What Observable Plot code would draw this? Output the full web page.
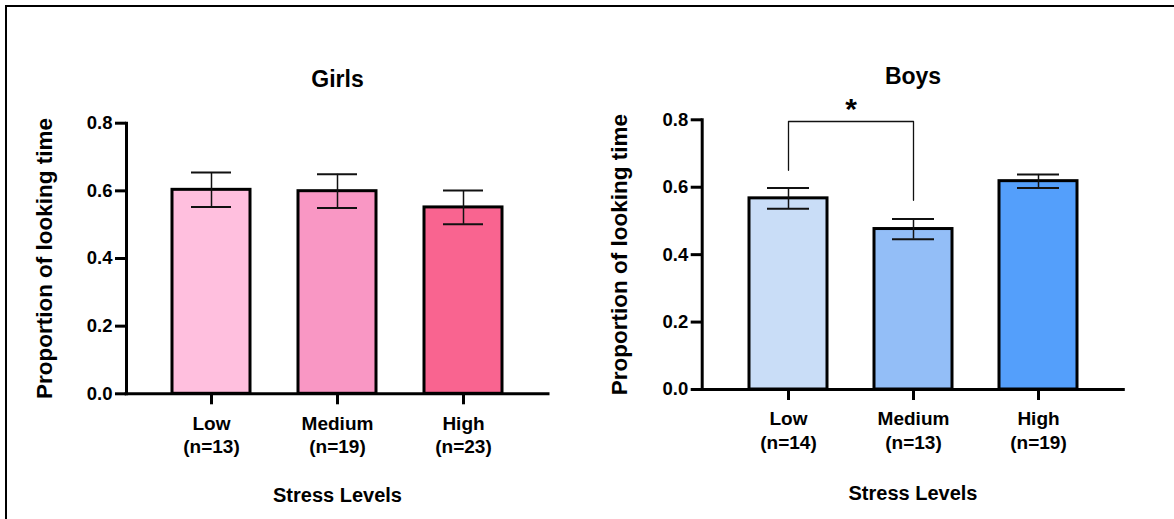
<!DOCTYPE html>
<html>
<head>
<meta charset="utf-8">
<script src="https://cdn.jsdelivr.net/npm/d3@7"></script>
<script src="https://cdn.jsdelivr.net/npm/@observablehq/plot@0.6"></script>
<style>
  html, body { margin: 0; padding: 0; background: #fff; }
  #root { position: relative; width: 1174px; height: 519px; overflow: hidden; background: #fff; }
  #border { position: absolute; left: 5px; top: 5px; width: 1200px; height: 600px;
            border-left: 2.5px solid #000; border-top: 2.5px solid #000; }
  .panel { position: absolute; top: 0; }
  .panel svg { display: block; }
</style>
</head>
<body>
<div id="root">
  <div id="border"></div>
  <div class="panel" id="girls" style="left:0px"></div>
  <div class="panel" id="boys" style="left:580px"></div>
</div>
<script>
// ---- data ----
const categories = ["Low", "Medium", "High"];
const yTicks = [0, 0.2, 0.4, 0.6, 0.8];

const girlsTitle = "Girls";
const girlsN = [13, 19, 23];
const girlsMean = [0.603, 0.599, 0.551];
const girlsSem = [0.051, 0.050, 0.050];
const girlsColors = ["#FFBFDE", "#F997C4", "#F96490"];

const boysTitle = "Boys";
const boysN = [14, 13, 19];
const boysMean = [0.567, 0.476, 0.618];
const boysSem = [0.031, 0.030, 0.020];
const boysColors = ["#C9DDF7", "#93BEF7", "#549FFB"];

// significance bracket (boys): Low vs Medium
const sigFrom = "Low";
const sigTo = "Medium";
const sigTop = 0.795;
const sigLegFrom = 0.650;
const sigLegTo = 0.561;
const sigLabel = "*";

const yLabel = "Proportion of looking time";
const xLabel = "Stress Levels";

function makeChart(opts) {
  const rows = categories.map((c, i) => ({
    cat: c, n: opts.n[i], mean: opts.mean[i], sem: opts.sem[i]
  }));
  const nMap = new Map(rows.map(d => [d.cat, d.n]));
  const marks = [
    Plot.barY(rows, {x: "cat", y: "mean", fill: "cat", stroke: "#000", strokeWidth: 3}),
    Plot.ruleX(rows, {x: "cat", y1: d => d.mean - d.sem, y2: d => d.mean + d.sem, stroke: "#111", strokeWidth: 1.5}),
    Plot.tickY(rows, {x: "cat", y: d => d.mean + d.sem, stroke: "#111", strokeWidth: 2, insetLeft: opts.capInset, insetRight: opts.capInset}),
    Plot.tickY(rows, {x: "cat", y: d => d.mean - d.sem, stroke: "#111", strokeWidth: 2, insetLeft: opts.capInset, insetRight: opts.capInset}),
    Plot.ruleY([0], {stroke: "#000", strokeWidth: 3, strokeLinecap: "square"}),
    Plot.frame({anchor: "left", stroke: "#000", strokeWidth: 3, strokeLinecap: "square"}),
    Plot.axisY({ticks: yTicks, tickFormat: d3.format(".1f"), tickSize: 11, tickPadding: 3,
                strokeWidth: 3, fontSize: 18.5, label: null}),
    Plot.axisX({tickSize: 11, tickPadding: 8, strokeWidth: 3, fontSize: 19, lineHeight: 1.25,
                tickFormat: d => `${d}\n(n=${nMap.get(d)})`, label: null}),
    Plot.text([opts.title], {frameAnchor: "top", lineAnchor: "middle", dy: -43.5, fontSize: 23, fill: "#000"}),
    Plot.text([yLabel], {frameAnchor: "left", textAnchor: "middle", lineAnchor: "middle", rotate: -90, dx: -82, fontSize: 22.5, fill: "#000"}),
    Plot.text([xLabel], {frameAnchor: "bottom", lineAnchor: "middle", dy: opts.xLabelDy, fontSize: 20, fill: "#000"})
  ];
  if (opts.sig) {
    const br = [
      {cat: sigFrom, y: sigLegFrom},
      {cat: sigFrom, y: sigTop},
      {cat: sigTo, y: sigTop},
      {cat: sigTo, y: sigLegTo}
    ];
    marks.push(Plot.line(br, {x: "cat", y: "y", stroke: "#111", strokeWidth: 1.3}));
    marks.push(Plot.text([sigLabel], {x: () => sigFrom, y: () => sigTop, dx: opts.sigDx, dy: -12, fontSize: 30, fill: "#000"}));
  }
  return Plot.plot({
    width: opts.width,
    height: 519,
    marginLeft: opts.ml,
    marginRight: opts.mr,
    marginTop: opts.mt,
    marginBottom: opts.mb,
    x: {domain: categories, paddingInner: opts.pi, paddingOuter: opts.po, label: null},
    y: {domain: [0, 0.8], label: null},
    color: {domain: categories, range: opts.colors},
    style: {fontFamily: "'Liberation Sans', Arial, sans-serif", fontWeight: "bold", color: "#000", background: "transparent", overflow: "visible"},
    marks
  });
}

document.getElementById("girls").append(makeChart({
  title: girlsTitle, n: girlsN, mean: girlsMean, sem: girlsSem, colors: girlsColors,
  width: 580, ml: 126, mr: 32, mt: 122.7, mb: 125.7, pi: 0.377, po: 0.3585,
  capInset: 19, xLabelDy: 102, sig: false
}));

document.getElementById("boys").append(makeChart({
  title: boysTitle, n: boysN, mean: boysMean, sem: boysSem, colors: boysColors,
  width: 594, ml: 121.7, mr: 50.7, mt: 119.3, mb: 130, pi: 0.38, po: 0.371,
  capInset: 18, xLabelDy: 104, sig: true, sigDx: 62.7
}));
</script>
</body>
</html>
